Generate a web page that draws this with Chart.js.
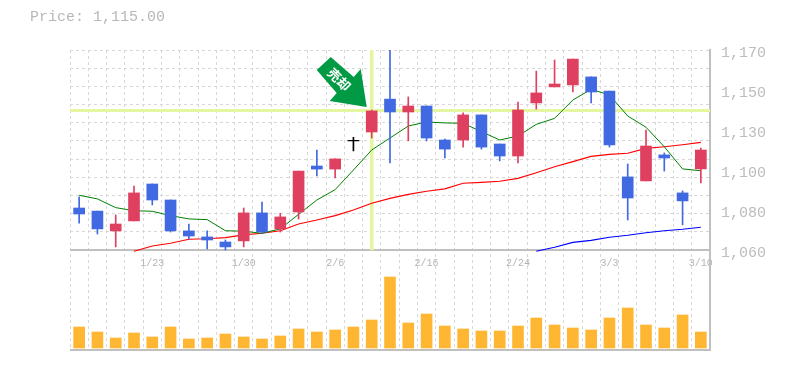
<!DOCTYPE html>
<html>
<head>
<meta charset="utf-8">
<style>
  body { margin: 0; background: #fff; }
  #price { position: absolute; left: 30px; top: 9px; font: 15px "Liberation Mono", monospace; color: #b8b8b8; }
  canvas { position: absolute; left: 0; top: 0; }
</style>
<script src="https://cdn.jsdelivr.net/npm/chart.js@4"></script>
</head>
<body>
<canvas id="chart" width="785" height="370"></canvas>
<div id="price">Price: 1,115.00</div>
<script>
const categories = ["", "", "", "", "1/23", "", "", "", "", "1/30", "", "", "", "", "2/6", "", "", "",
  "", "2/16", "", "", "", "", "2/24", "", "", "", "", "3/3", "", "", "", "", "3/10"];
const opens = [1083.1, 1081.4, 1070.5, 1076.0, 1096.3, 1087.5, 1070.5, 1067.2, 1064.4, 1065.0, 1080.4, 1071.6,
  1080.9, 1106.2, 1104.5, 1120.0, 1124.9, 1143.0, 1135.9, 1139.2, 1120.5, 1120.5, 1134.3, 1118.3, 1111.7,
  1140.9, 1149.7, 1150.8, 1155.2, 1147.4, 1100.2, 1098.0, 1112.3, 1091.4, 1104.6];
const closes = [1079.8, 1071.6, 1074.3, 1091.4, 1087.5, 1070.5, 1067.7, 1065.5, 1061.7, 1080.4, 1069.9, 1078.2,
  1103.4, 1104.5, 1110.1, 1120.3, 1136.5, 1135.9, 1139.2, 1121.6, 1115.5, 1134.3, 1116.6, 1111.7, 1137.0,
  1146.4, 1151.3, 1165.0, 1146.9, 1117.8, 1088.6, 1117.2, 1110.6, 1087.0, 1115.0];
const highs = [1089.2, 1081.4, 1079.3, 1095.2, 1096.3, 1087.5, 1074.3, 1070.5, 1065.5, 1083.1, 1086.4, 1080.2,
  1103.4, 1115.0, 1110.1, 1122.0, 1137.0, 1170.0, 1144.2, 1139.2, 1121.0, 1135.4, 1134.3, 1118.3, 1141.4,
  1158.4, 1164.5, 1165.0, 1155.2, 1147.4, 1107.3, 1126.0, 1113.4, 1092.5, 1116.1];
const lows = [1074.8, 1068.8, 1061.7, 1076.0, 1084.8, 1069.9, 1066.1, 1060.6, 1060.0, 1061.7, 1069.2, 1069.9,
  1077.0, 1100.7, 1099.6, 1114.5, 1121.6, 1107.9, 1120.0, 1120.0, 1110.6, 1116.6, 1115.5, 1109.0, 1107.9,
  1137.5, 1149.7, 1146.9, 1140.9, 1116.6, 1076.5, 1098.0, 1103.4, 1073.8, 1096.9];
const maShort = [1090.1, 1088.1, 1083.3, 1081.6, 1081.3, 1078.9, 1077.1, 1076.7, 1070.6, 1070.3, 1069.2, 1071.6,
  1079.6, 1087.5, 1093.2, 1104.0, 1115.0, 1121.6, 1128.2, 1130.4, 1129.9, 1129.7, 1125.1, 1120.5, 1122.7,
  1129.1, 1132.4, 1142.5, 1148.4, 1145.3, 1133.7, 1127.5, 1116.8, 1104.6, 1103.6];
const maMid = [null, null, null, 1059.3, 1062.2, 1063.7, 1065.9, 1066.2, 1066.8, 1068.3, 1069.2, 1070.6,
  1074.3, 1076.5, 1078.9, 1082.0, 1085.7, 1088.4, 1090.6, 1092.3, 1093.6, 1096.7, 1097.2, 1097.8, 1099.4,
  1102.5, 1105.8, 1108.6, 1111.5, 1112.6, 1113.2, 1115.9, 1116.8, 1117.9, 1119.2];
const maLong = [null, null, null, null, null, null, null, null, null, null, null, null,
  null, null, null, null, null, null, null, null, null, null, null, null, null,
  1059.3, 1061.5, 1064.2, 1065.3, 1067.0, 1068.1, 1069.5, 1070.6, 1071.4, 1072.5];
const volumes = [2100, 1600, 1000, 1500, 1100, 2100, 900, 1000, 1400, 1100, 900, 1200, 1900, 1600, 1800, 2100, 2800,
  7100, 2500, 3400, 2200, 1900, 1700, 1700, 2200, 3000, 2300, 2000, 1800, 3000, 4000, 2300, 2000, 3300, 1600];
const gridTicks = [1060, 1070, 1080, 1090, 1100, 1110, 1120, 1130, 1140, 1150, 1160, 1170];
const labelTicks = [1060, 1082, 1104, 1126, 1148, 1170];
const labelTexts = ["1,060", "1,080", "1,100", "1,130", "1,150", "1,170"];
const markIndex = 16;
const markPrice = 1136.5;
const markText = "売却";

const RED = "#e04060";
const BLUE = "#4169e1";
const candleColors = opens.map((o, i) => {
  if (i === 15) return "#000000";
  return closes[i] >= o ? RED : BLUE;
});

// price and volume share one plot area, so the ranges are set to split it 2:1
const priceMin = 1005;
const priceMax = 1170;

const markerPlugin = {
  id: "marker",
  beforeDatasetsDraw(chart) {
    const { ctx, chartArea, scales } = chart;
    const y = scales.yPrice.getPixelForValue(markPrice);
    ctx.save();
    ctx.fillStyle = "#e4f6a0";
    ctx.fillRect(chartArea.left, Math.round(y - 1.5), chartArea.width, 3);
    ctx.restore();
  },
  afterDatasetsDraw(chart) {
    const { ctx, scales } = chart;
    const tipX = scales.x.getPixelForValue(markIndex) - 5;
    const tipY = scales.yPrice.getPixelForValue(markPrice) - 4;
    const arrow = [[0, 0], [-37, -6], [-30, -14], [-50, -37], [-36, -50], [-13, -30], [-6, -38]];
    ctx.save();
    ctx.fillStyle = "#009944";
    ctx.beginPath();
    arrow.forEach(([dx, dy], i) => {
      if (i === 0) ctx.moveTo(tipX + dx, tipY + dy);
      else ctx.lineTo(tipX + dx, tipY + dy);
    });
    ctx.closePath();
    ctx.fill();
    ctx.translate(tipX - 27.5, tipY - 27.5);
    ctx.rotate(Math.PI / 4);
    ctx.fillStyle = "#ffffff";
    ctx.font = 'bold 13px "Noto Sans CJK JP"';
    ctx.textAlign = "center";
    ctx.textBaseline = "middle";
    ctx.fillText(markText, 0, 0);
    ctx.restore();
  },
};

new Chart(document.getElementById("chart"), {
  type: "bar",
  plugins: [markerPlugin],
  data: {
    labels: categories,
    datasets: [
      {
        // vertical highlight through the marked day
        yAxisID: "yPrice",
        grouped: false,
        order: 9,
        barThickness: 3,
        backgroundColor: "#e4f6a0",
        data: categories.map((c, i) => (i === markIndex ? [1060, priceMax] : null)),
      },
      {
        yAxisID: "yVolume",
        grouped: false,
        order: 8,
        barThickness: 11,
        backgroundColor: "#ffb733",
        data: volumes,
      },
      {
        type: "line",
        yAxisID: "yPrice",
        order: 7,
        borderColor: "#0000ff",
        borderWidth: 1.2,
        pointRadius: 0,
        data: maLong,
      },
      {
        type: "line",
        yAxisID: "yPrice",
        order: 6,
        borderColor: "#ff0000",
        borderWidth: 1.2,
        pointRadius: 0,
        data: maMid,
      },
      {
        type: "line",
        yAxisID: "yPrice",
        order: 5,
        borderColor: "#008000",
        borderWidth: 1,
        pointRadius: 0,
        data: maShort,
      },
      {
        yAxisID: "yPrice",
        grouped: false,
        order: 2,
        barThickness: 1,
        backgroundColor: candleColors,
        data: highs.map((h, i) => [lows[i], h]),
      },
      {
        yAxisID: "yPrice",
        grouped: false,
        order: 1,
        barThickness: 11,
        backgroundColor: candleColors,
        data: opens.map((o, i) => [o, closes[i]]),
      },
    ],
  },
  options: {
    responsive: false,
    animation: false,
    layout: {
      padding: { left: 70, top: 50, right: 0, bottom: 20 },
    },
    scales: {
      x: {
        position: { yPrice: 1060 },
        offset: true,
        grid: {
          offset: true,
          color: "#d8d8d8",
          drawTicks: false,
        },
        border: { display: false, dash: [3, 3] },
        ticks: {
          autoSkip: false,
          maxRotation: 0,
          padding: 7,
          color: "#b4b4b4",
          font: { family: "Liberation Mono", size: 10 },
        },
      },
      yPrice: {
        position: "left",
        min: priceMin,
        max: priceMax,
        afterBuildTicks: (axis) => {
          axis.ticks = gridTicks.map((v) => ({ value: v }));
        },
        afterFit: (axis) => {
          axis.width = 0;
        },
        grid: { color: "#d8d8d8", drawTicks: false },
        border: { display: false, dash: [3, 3] },
        ticks: { display: false },
      },
      yLabels: {
        position: "right",
        min: priceMin,
        max: priceMax,
        afterBuildTicks: (axis) => {
          axis.ticks = labelTicks.map((v) => ({ value: v }));
        },
        afterFit: (axis) => {
          axis.width = 75;
        },
        grid: { display: false, drawTicks: false },
        border: { display: true, color: "#c0c0c0", width: 2 },
        ticks: {
          padding: 11,
          labelOffset: 3,
          color: "#bcbcbc",
          font: { family: "Liberation Mono", size: 15 },
          callback: (value) => labelTexts[labelTicks.indexOf(value)],
        },
      },
      yVolume: {
        position: "left",
        min: -200,
        max: 29800,
        afterBuildTicks: (axis) => {
          axis.ticks = [{ value: -200 }, { value: 9800 }];
        },
        afterFit: (axis) => {
          axis.width = 0;
        },
        grid: { color: "#c0c0c0", lineWidth: 2, drawTicks: false },
        border: { display: false },
        ticks: { display: false },
      },
    },
    plugins: {
      legend: { display: false },
      tooltip: { enabled: false },
    },
  },
});
</script>
</body>
</html>
